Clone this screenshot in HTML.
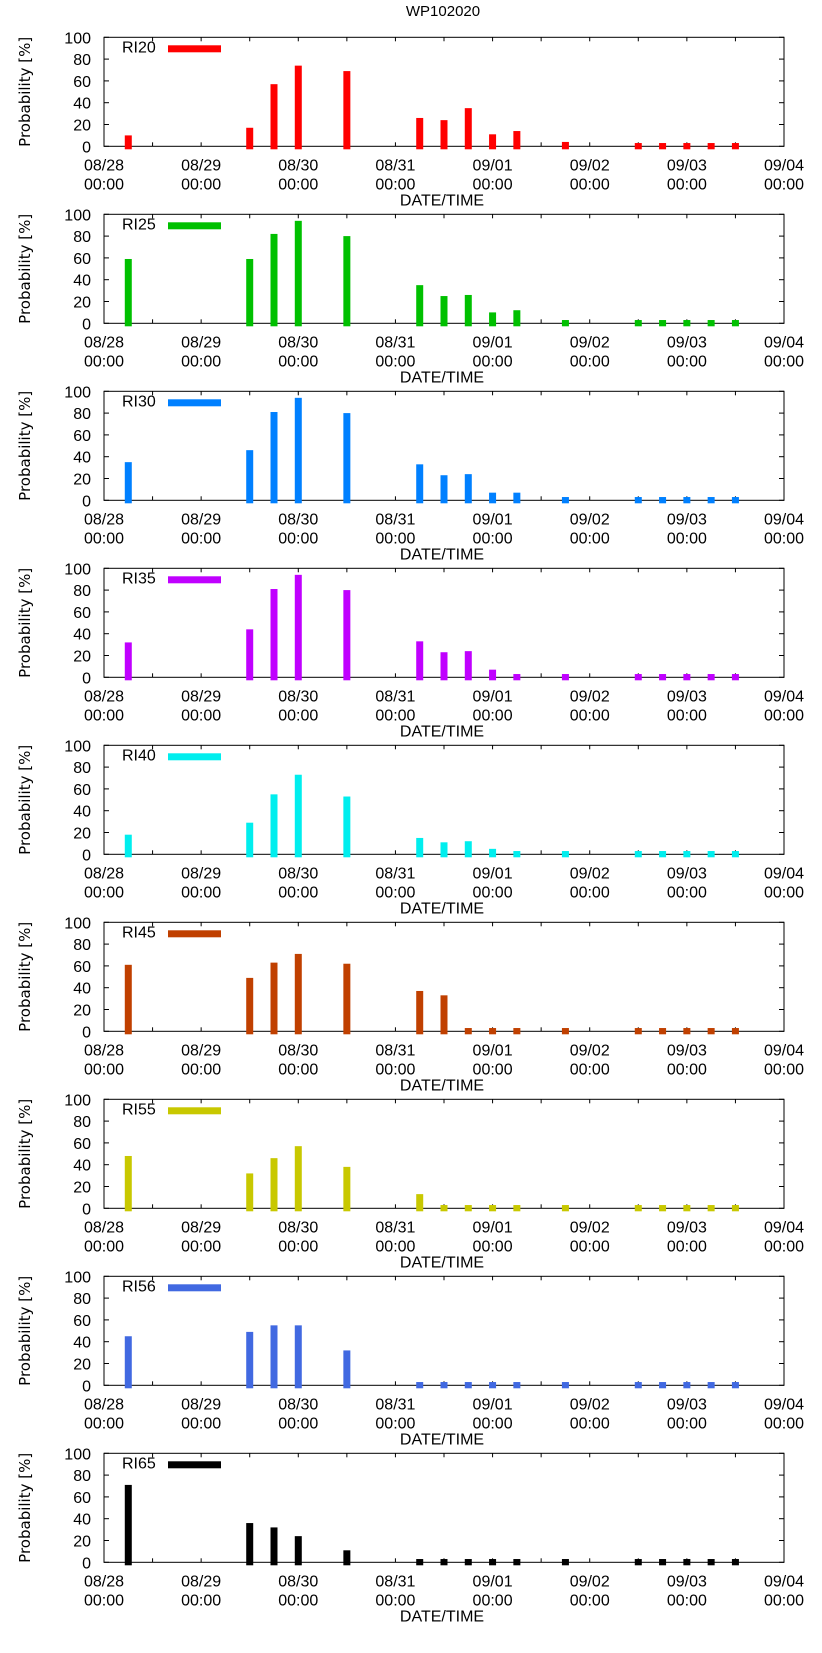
<!DOCTYPE html>
<html><head><meta charset="utf-8"><style>
html,body{margin:0;padding:0;background:#fff;}
svg{display:block;}
text{font-family:"Liberation Sans",sans-serif;}
</style></head><body>
<svg id="chart" width="822" height="1653" viewBox="0 0 822 1653" xmlns="http://www.w3.org/2000/svg">
<text x="443" y="16" font-size="15" text-anchor="middle">WP102020</text>
</svg>
<script>
const dayOffsets = [0.25,1.5,1.75,2.0,2.5,3.25,3.5,3.75,4.0,4.25,4.75,5.5,5.75,6.0,6.25,6.5];
const seriesNames = ["RI20","RI25","RI30","RI35","RI40","RI45","RI55","RI56","RI65"];
const seriesColors = ["#ff0000","#00c000","#0080ff","#c000ff","#00eeee","#c04000","#c8c800","#4169e1","#000000"];
const ri20 = [10,17,57,74,69,26,24,35,11,14,4,3,3,3,3,3];
const ri25 = [59,59,82,94,80,35,25,26,10,12,3,3,3,3,3,3];
const ri30 = [35,46,81,94,80,33,23,24,7,7,3,3,3,3,3,3];
const ri35 = [32,44,81,94,80,33,23,24,7,3,3,3,3,3,3,3];
const ri40 = [18,29,55,73,53,15,11,12,5,3,3,3,3,3,3,3];
const ri45 = [61,49,63,71,62,37,33,3,3,3,3,3,3,3,3,3];
const ri55 = [48,32,46,57,38,13,3,3,3,3,3,3,3,3,3,3];
const ri56 = [45,49,55,55,32,3,3,3,3,3,3,3,3,3,3,3];
const ri65 = [71,36,32,24,11,3,3,3,3,3,3,3,3,3,3,3];
const allSeries = [ri20,ri25,ri30,ri35,ri40,ri45,ri55,ri56,ri65];
const xTickDates = ["08/28","08/29","08/30","08/31","09/01","09/02","09/03","09/04"];
const yTicks = [0,20,40,60,80,100];

const svg = document.getElementById('chart');
const NS = "http://www.w3.org/2000/svg";
const L = 104, R = 784, PH = 109, TOP0 = 37.3, PITCH = 177;
function mk(tag, attrs, parent){const e=document.createElementNS(NS,tag);for(const k in attrs)e.setAttribute(k,attrs[k]);(parent||svg).appendChild(e);return e;}
function xs(d){return L + d/7*(R-L);}

seriesNames.forEach((name,i)=>{
  const top = TOP0 + i*PITCH, bot = top + PH;
  const ys = v => bot - v/100*PH;
  const g = mk('g',{});
  
  
  // frame
  const fr = mk('rect',{x:L,y:top,width:R-L,height:PH,fill:'none',stroke:'#000','stroke-width':1},g);
  
  
  // y ticks
  yTicks.forEach(t=>{
    const y = ys(t);
    mk('line',{x1:L,y1:y,x2:L+5,y2:y,stroke:'#000'},g);
    mk('line',{x1:R,y1:y,x2:R-5,y2:y,stroke:'#000'},g);
    const tl = mk('text',{x:91,y:y+6,'font-size':16,'text-anchor':'end'},g);
    tl.textContent = t;
    
    
  });
  // x ticks every 12h
  for(let h=1; h<14; h++){
    const x = xs(h/2);
    mk('line',{x1:x,y1:bot,x2:x,y2:bot-4,stroke:'#000'},g);
    mk('line',{x1:x,y1:top,x2:x,y2:top+4,stroke:'#000'},g);
  }
  xTickDates.forEach((d,k)=>{
    const x = xs(k);
    const t1 = mk('text',{x:x,y:bot+24,'font-size':16,'text-anchor':'middle'},g);
    t1.textContent = d;
    
    
    const t2 = mk('text',{x:x,y:bot+43,'font-size':16,'text-anchor':'middle'},g);
    t2.textContent = "00:00";
    
    
  });
  const xt = mk('text',{x:442,y:bot+59,'font-size':16,'text-anchor':'middle'},g);
  xt.textContent = "DATE/TIME";
  
  
  const yt = mk('text',{x:0,y:0,'font-size':15,'text-anchor':'middle',transform:`translate(30,${top+PH/2}) rotate(-90)`,style:'font-family:"DejaVu Sans",sans-serif'},g);
  yt.textContent = "Probability [%]";
  
  
  // bars
  allSeries[i].forEach((v,k)=>{
    const x = xs(dayOffsets[k]);
    const b = mk('rect',{x:x-3.5,y:ys(v),width:7,height:bot+3-ys(v),fill:seriesColors[i]},g);
    
    
  });
  // legend
  const lt = mk('text',{x:122,y:top+15,'font-size':16},g);
  lt.textContent = name;
  
  
  const sw = mk('rect',{x:168,y:top+8,width:53,height:7,fill:seriesColors[i]},g);
  
  
});
</script>
</body></html>
